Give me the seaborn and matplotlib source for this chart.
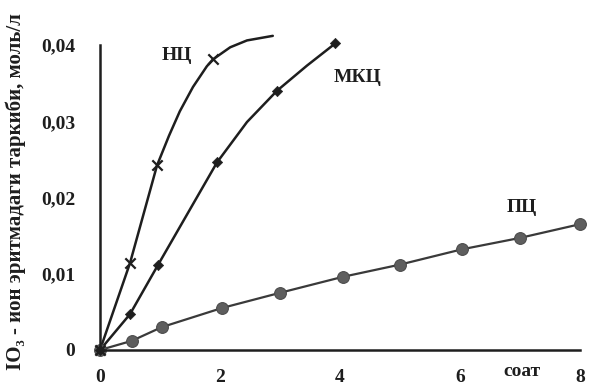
import matplotlib
matplotlib.use("Agg")
import matplotlib.pyplot as plt
import seaborn as sns

# НЦ curve and its marked points
nc_x = [0.0, 0.5, 0.95, 1.15, 1.33, 1.55, 1.78, 1.88, 2.17, 2.45, 2.88]
nc_y = [0.0, 0.0114, 0.0242, 0.0281, 0.0313, 0.0345, 0.0372, 0.0381, 0.0397, 0.0406, 0.0412]
nc_mark_x = [0.0, 0.5, 0.95, 1.88]
nc_mark_y = [0.0, 0.0114, 0.0242, 0.0381]

# МКЦ curve and marked points
mkc_x = [0.0, 0.5, 0.97, 1.95, 2.45, 2.95, 3.45, 3.92]
mkc_y = [0.0, 0.0047, 0.0112, 0.0246, 0.0299, 0.0340, 0.0373, 0.0402]
mkc_mark_x = [0.0, 0.5, 0.97, 1.95, 2.95, 3.92]
mkc_mark_y = [0.0, 0.0047, 0.0112, 0.0246, 0.0340, 0.0402]

# ПЦ
pc_x = [0.0, 0.53, 1.03, 2.03, 3.0, 4.05, 5.0, 6.03, 7.0, 8.0]
pc_y = [0.0, 0.0012, 0.0030, 0.0055, 0.0075, 0.0096, 0.0112, 0.0132, 0.0147, 0.0165]

x_ticks = [0, 2, 4, 6, 8]
x_tick_labels = ["0", "2", "4", "6", "8"]
y_ticks = [0, 0.01, 0.02, 0.03, 0.04]
y_tick_labels = ["0", "0,01", "0,02", "0,03", "0,04"]

sns.set_style("white")
plt.rcParams["font.family"] = ["Liberation Serif", "DejaVu Serif"]
plt.rcParams["font.weight"] = "bold"

fig = plt.figure(figsize=(5.91, 3.87), dpi=100)
ax = fig.add_axes([100 / 591, 37 / 387, 480 / 591, 305 / 387])

dark = "#1e1e1e"
lw = 1.8

sns.lineplot(x=nc_x, y=nc_y, ax=ax, color=dark, linewidth=lw, clip_on=False, sort=False)
sns.scatterplot(x=nc_mark_x, y=nc_mark_y, ax=ax, marker="x", s=55, color=dark,
                linewidth=1.6, clip_on=False, zorder=5)

sns.lineplot(x=mkc_x, y=mkc_y, ax=ax, color=dark, linewidth=lw, clip_on=False, sort=False)
sns.scatterplot(x=mkc_mark_x, y=mkc_mark_y, ax=ax, marker="D", s=28, color=dark,
                edgecolor=dark, clip_on=False, zorder=5)

sns.lineplot(x=pc_x, y=pc_y, ax=ax, color="#3a3a3a", linewidth=1.6, marker="o",
             markersize=8.5, markerfacecolor="#5e5e5e", markeredgecolor="#4a4a4a",
             clip_on=False)

ax.set_xlim(0, 8)
ax.set_ylim(0, 0.04)
ax.set_xticks(x_ticks)
ax.set_xticklabels(x_tick_labels)
ax.set_yticks(y_ticks)
ax.set_yticklabels(y_tick_labels)

for s in ["top", "right"]:
    ax.spines[s].set_visible(False)
for s in ["left", "bottom"]:
    ax.spines[s].set_color(dark)
    ax.spines[s].set_linewidth(1.8)

ax.tick_params(axis="both", which="major", direction="out", length=6, width=1.5,
               color=dark, labelsize=14, labelcolor=dark)
ax.tick_params(axis="x", pad=8)
ax.tick_params(axis="y", pad=12)
for lab in ax.get_xticklabels() + ax.get_yticklabels():
    lab.set_fontweight("bold")

ax.text(1.28, 0.0386, "НЦ", fontsize=14, fontweight="bold", color=dark,
        ha="center", va="center")
ax.text(4.3, 0.0357, "МКЦ", fontsize=14, fontweight="bold", color=dark,
        ha="center", va="center")
ax.text(7.03, 0.0187, "ПЦ", fontsize=14, fontweight="bold", color=dark,
        ha="center", va="center")
ax.text(7.03, -0.0017, "соат", fontsize=14, fontweight="bold", color=dark,
        va="top", ha="center")

fig.text(0.026, 0.505, "IO₃ - ион эритмадаги таркиби, моль/л", rotation=90,
         fontsize=15, fontweight="bold", color=dark, va="center", ha="center")

fig.savefig("out.png", dpi=100, facecolor="white")
